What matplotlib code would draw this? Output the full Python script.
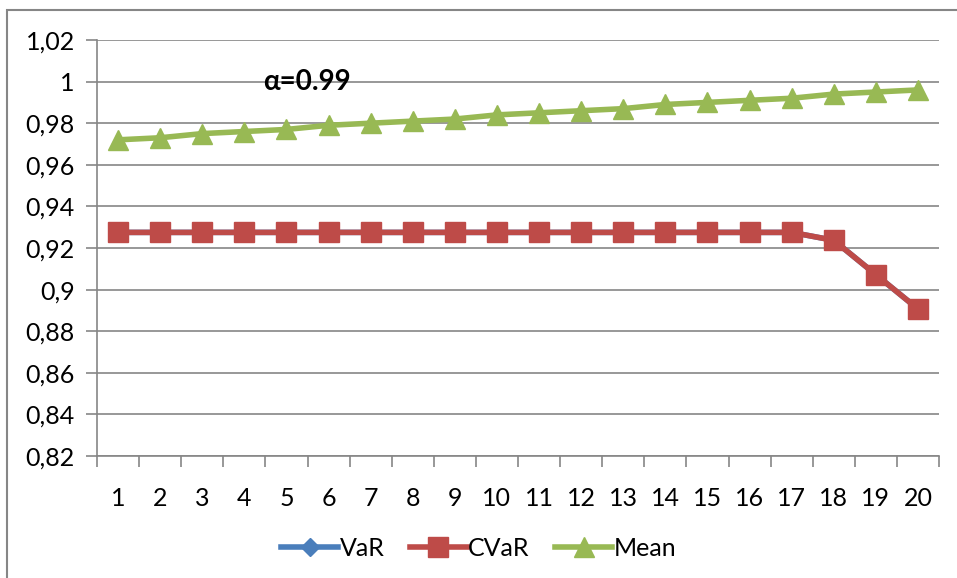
import numpy as np
import matplotlib.pyplot as plt
from matplotlib.patches import Rectangle
from matplotlib.ticker import FuncFormatter

plt.rcParams['font.family'] = ['Lato', 'DejaVu Sans']

# data
steps = list(range(1, 21))
cvar = [0.9275] * 17 + [0.9237, 0.9072, 0.8907]
var = list(cvar)  # VaR sits under CVaR
mean = [0.972, 0.973, 0.975, 0.976, 0.977, 0.979, 0.980, 0.981, 0.982, 0.984,
        0.985, 0.986, 0.987, 0.989, 0.990, 0.991, 0.992, 0.994, 0.995, 0.996]
y_ticks = [0.82, 0.84, 0.86, 0.88, 0.90, 0.92, 0.94, 0.96, 0.98, 1.00, 1.02]

W, H = 957, 578
fig = plt.figure(figsize=(W / 100, H / 100), dpi=100)
ax = fig.add_axes([97 / W, 1 - 456 / H, (939 - 97) / W, (456 - 40) / H])

grey = '#868686'
ax.plot(steps, var, color='#4a7ebb', lw=4, marker='D', ms=9, label='VaR', zorder=3)
ax.plot(steps, cvar, color='#be4b48', lw=4, marker='s', ms=14, label='CVaR', zorder=4)
ax.plot(steps, mean, color='#98b954', lw=4, marker='^', ms=15, label='Mean', zorder=5)

ax.set_xlim(0.5, 20.5)
ax.set_ylim(0.82, 1.02)
ax.set_yticks(y_ticks)
ax.yaxis.set_major_formatter(FuncFormatter(
    lambda v, p: ('%g' % round(v, 2)).replace('.', ',')))
ax.set_xticks(steps)
ax.set_xticks(np.arange(0.5, 21, 1), minor=True)
ax.tick_params(axis='x', which='major', length=0, pad=22, labelsize=18)
ax.tick_params(axis='x', which='minor', length=8, color=grey, width=1.2)
ax.tick_params(axis='y', length=8, color=grey, width=1.2, labelsize=18, pad=8)

ax.grid(axis='y', color=grey, lw=1.2)
ax.set_axisbelow(True)
for s in ['top', 'right']:
    ax.spines[s].set_visible(False)
for s in ['left', 'bottom']:
    ax.spines[s].set_color(grey)
    ax.spines[s].set_linewidth(1.2)

ax.text(5.49, 1.0, 'α=0.99', ha='center', va='center', fontsize=20, fontweight='bold')

fig.legend(loc='center', bbox_to_anchor=(0.5, 1 - 548 / H), ncol=3, frameon=False,
           fontsize=18, handlelength=2.3, columnspacing=1.0, handletextpad=0.05)

fig.patches.append(Rectangle((7 / W, -0.1), 1.2, 1 - 10 / H + 0.1, transform=fig.transFigure,
                             fill=False, edgecolor=grey, lw=1.5))

fig.savefig('out.png', dpi=100)
